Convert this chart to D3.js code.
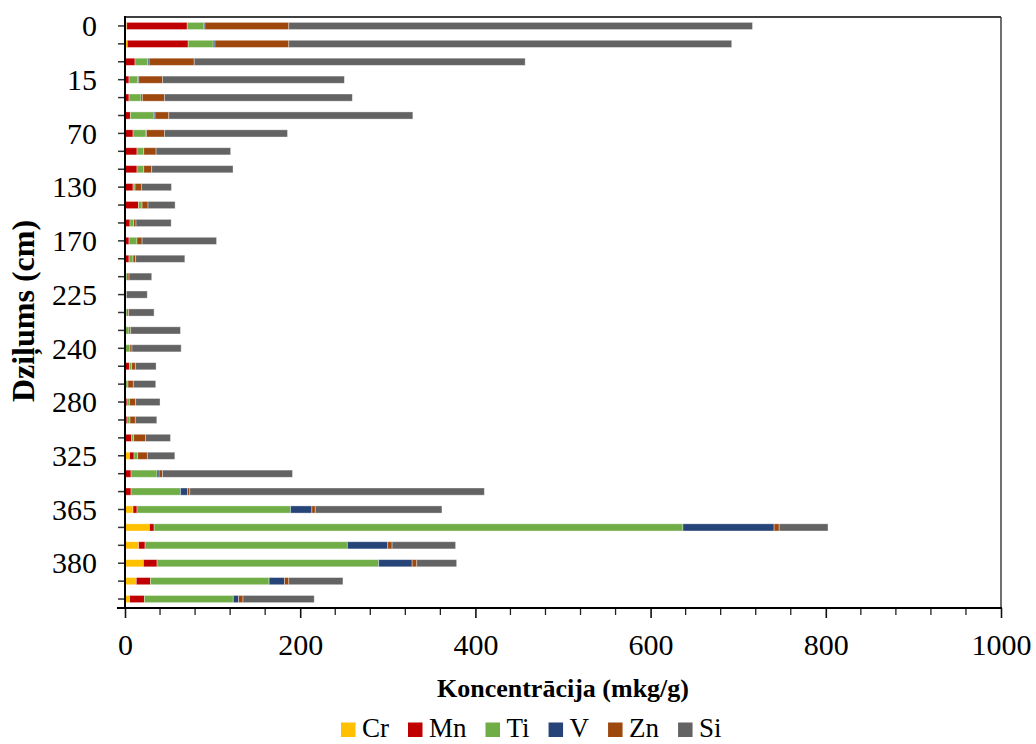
<!DOCTYPE html>
<html>
<head>
<meta charset="utf-8">
<script src="https://cdn.jsdelivr.net/npm/d3@7/dist/d3.min.js"></script>
<style>
  html, body { margin: 0; padding: 0; background: #ffffff; }
  svg { display: block; font-family: "Liberation Serif", "Times New Roman", serif; }
</style>
</head>
<body>
<svg id="chart" width="1036" height="744"></svg>
<script>
// Sampling depths (cm), top to bottom
const depths = ["0", "5", "10", "15", "30", "50", "70", "90", "110", "130", "140", "150",
  "170", "190", "210", "225", "230", "235", "240", "250", "265", "280", "295", "310",
  "325", "340", "355", "365", "370", "375", "380", "385", "390"];

// Element concentrations (mkg/g) per depth
const Cr = [2, 2.6, 0, 0, 0, 0, 0, 0, 0, 0, 0, 0, 0, 0, 0, 0, 0, 0, 0, 0, 0, 0, 0, 0,
  5.3, 0, 0.5, 9.2, 27.9, 15.6, 21, 12.9, 5.3];
const Mn = [69, 69.5, 11.4, 4.6, 4.6, 6.1, 9.2, 13.7, 13.7, 9.2, 15.3, 5.7, 4.6, 4.6, 0, 0,
  0, 0, 0, 5, 1, 2.3, 2.3, 7.6, 5, 6.9, 6.4, 4.5, 5.3, 7.3, 15.6, 16.1, 16.8];
const Ti = [18.6, 28.6, 14.6, 9.9, 13.7, 27.1, 14.8, 7.7, 7.7, 2.3, 4.2, 4.2, 9.1, 4.6, 2.3,
  0.5, 2.3, 4.6, 5.7, 2.6, 2.4, 2.7, 3.4, 2.3, 4.2, 29.7, 56.4, 175.2, 603.7, 230.9, 253,
  135.5, 101.5];
const V = [1.6, 2, 1.5, 1.2, 1.5, 1.1, 0.5, 0, 0, 0, 0, 0, 0, 0, 0, 0, 0, 0, 0, 0, 0, 0, 0,
  0, 0, 2.3, 8, 24.4, 104.1, 46.1, 38.2, 17.5, 6.1];
const Zn = [95.8, 84.3, 51.5, 27, 25.2, 15.7, 20.5, 14.1, 9.1, 7.2, 6.8, 2.7, 5.8, 3, 2.3,
  1.2, 1.9, 1.9, 2.3, 4.2, 6.1, 7.2, 6.1, 13.4, 11, 3.8, 2.7, 3.9, 5.8, 5, 5.3, 5, 5];
const Si = [529.3, 505.6, 377.8, 207.7, 214.5, 278.6, 140.5, 85.1, 92.8, 34.3, 30.9, 40.1, 85,
  56.1, 25.9, 23.7, 29, 56.8, 56.1, 23.7, 25.6, 27.8, 24.5, 28.6, 31.4, 148.5, 336.2,
  144.6, 55.7, 72.5, 45.5, 61.8, 81.3];

const elements = ["Cr", "Mn", "Ti", "V", "Zn", "Si"];
const colors = ["#FFC000", "#C00000", "#70AD47", "#264478", "#9E480E", "#636363"];
const xTicks = [0, 200, 400, 600, 800, 1000];

const series = { Cr, Mn, Ti, V, Zn, Si };
const rows = depths.map((d, i) => {
  const r = { depth: d };
  elements.forEach(e => { r[e] = series[e][i]; });
  return r;
});

const svg = d3.select("#chart");
const plotL = 125, plotR = 1001, plotT = 17, plotB = 608;

const x = d3.scaleLinear().domain([0, 1000]).range([plotL, plotR]);
const y = d3.scaleBand().domain(depths).range([plotT, plotB])
  .paddingInner(0.6).paddingOuter(0.3);
const color = d3.scaleOrdinal().domain(elements).range(colors);

const stacked = d3.stack().keys(elements)(rows);

// stacked bars
svg.append("g")
  .selectAll("g")
  .data(stacked)
  .join("g")
  .attr("fill", d => color(d.key))
  .selectAll("rect")
  .data(d => d.filter(s => s[1] - s[0] > 0))
  .join("rect")
  .attr("x", d => x(d[0]))
  .attr("width", d => x(d[1]) - x(d[0]))
  .attr("y", d => y(d.data.depth))
  .attr("height", y.bandwidth())
  .attr("stroke", "rgba(255,255,255,0.45)")
  .attr("stroke-width", 0.8);

// plot frame: top and right edges
svg.append("line").attr("x1", plotL).attr("x2", plotR).attr("y1", plotT).attr("y2", plotT)
  .attr("stroke", "#000").attr("stroke-width", 1.5);
svg.append("line").attr("x1", plotR).attr("x2", plotR).attr("y1", plotT).attr("y2", plotB)
  .attr("stroke", "#404040").attr("stroke-width", 1.5);

// x axis: minor ticks every 40, major every 200
const minor = d3.range(0, 1001, 40).filter(v => v % 200 !== 0);
svg.append("g").selectAll("line").data(minor).join("line")
  .attr("x1", d => x(d)).attr("x2", d => x(d))
  .attr("y1", plotB).attr("y2", plotB + 7)
  .attr("stroke", "#222").attr("stroke-width", 1.3);

const xAxis = d3.axisBottom(x).tickValues(xTicks).tickSize(10).tickPadding(16)
  .tickFormat(d3.format("d"));
const gx = svg.append("g").attr("transform", `translate(0,${plotB})`).call(xAxis);
gx.select(".domain").remove();
gx.selectAll(".tick line").attr("stroke", "#111").attr("stroke-width", 1.6);
gx.selectAll(".tick text").attr("font-size", 30).attr("fill", "#000")
  .attr("font-family", "Liberation Serif");
svg.append("line").attr("x1", plotL - 8).attr("x2", plotR + 1)
  .attr("y1", plotB).attr("y2", plotB)
  .attr("stroke", "#000").attr("stroke-width", 2);

// y axis: tick at every depth, label at every third
const yAxis = d3.axisLeft(y).tickSize(7).tickPadding(21)
  .tickFormat((d, i) => i % 3 === 0 ? d : "");
const gy = svg.append("g").attr("transform", `translate(${plotL},0)`).call(yAxis);
gy.select(".domain").remove();
gy.selectAll(".tick line").attr("stroke", "#333").attr("stroke-width", 1.5);
gy.selectAll(".tick text").attr("font-size", 30).attr("fill", "#000")
  .attr("font-family", "Liberation Serif").attr("dy", "0.34em");
svg.append("line").attr("x1", plotL).attr("x2", plotL).attr("y1", plotT - 1).attr("y2", plotB + 1)
  .attr("stroke", "#000").attr("stroke-width", 2);

// axis titles
svg.append("text")
  .attr("x", (plotL + plotR) / 2).attr("y", 697)
  .attr("text-anchor", "middle")
  .attr("font-size", 26).attr("font-weight", "bold")
  .text("Koncentrācija (mkg/g)");

svg.append("text")
  .attr("transform", "translate(34,311) rotate(-90)")
  .attr("text-anchor", "middle")
  .attr("font-size", 32).attr("font-weight", "bold")
  .text("Dziļums (cm)");

// legend
const legend = svg.append("g").attr("transform", "translate(341,737)");
let lx = 0;
elements.forEach(e => {
  const item = legend.append("g").attr("transform", `translate(${lx},0)`);
  item.append("rect").attr("x", 0).attr("y", -14.5).attr("width", 14.5).attr("height", 14.5)
    .attr("fill", color(e));
  const t = item.append("text").attr("x", 21).attr("y", 0)
    .attr("font-size", 27).text(e);
  lx += 21 + t.node().getComputedTextLength() + 19;
});
</script>
</body>
</html>
